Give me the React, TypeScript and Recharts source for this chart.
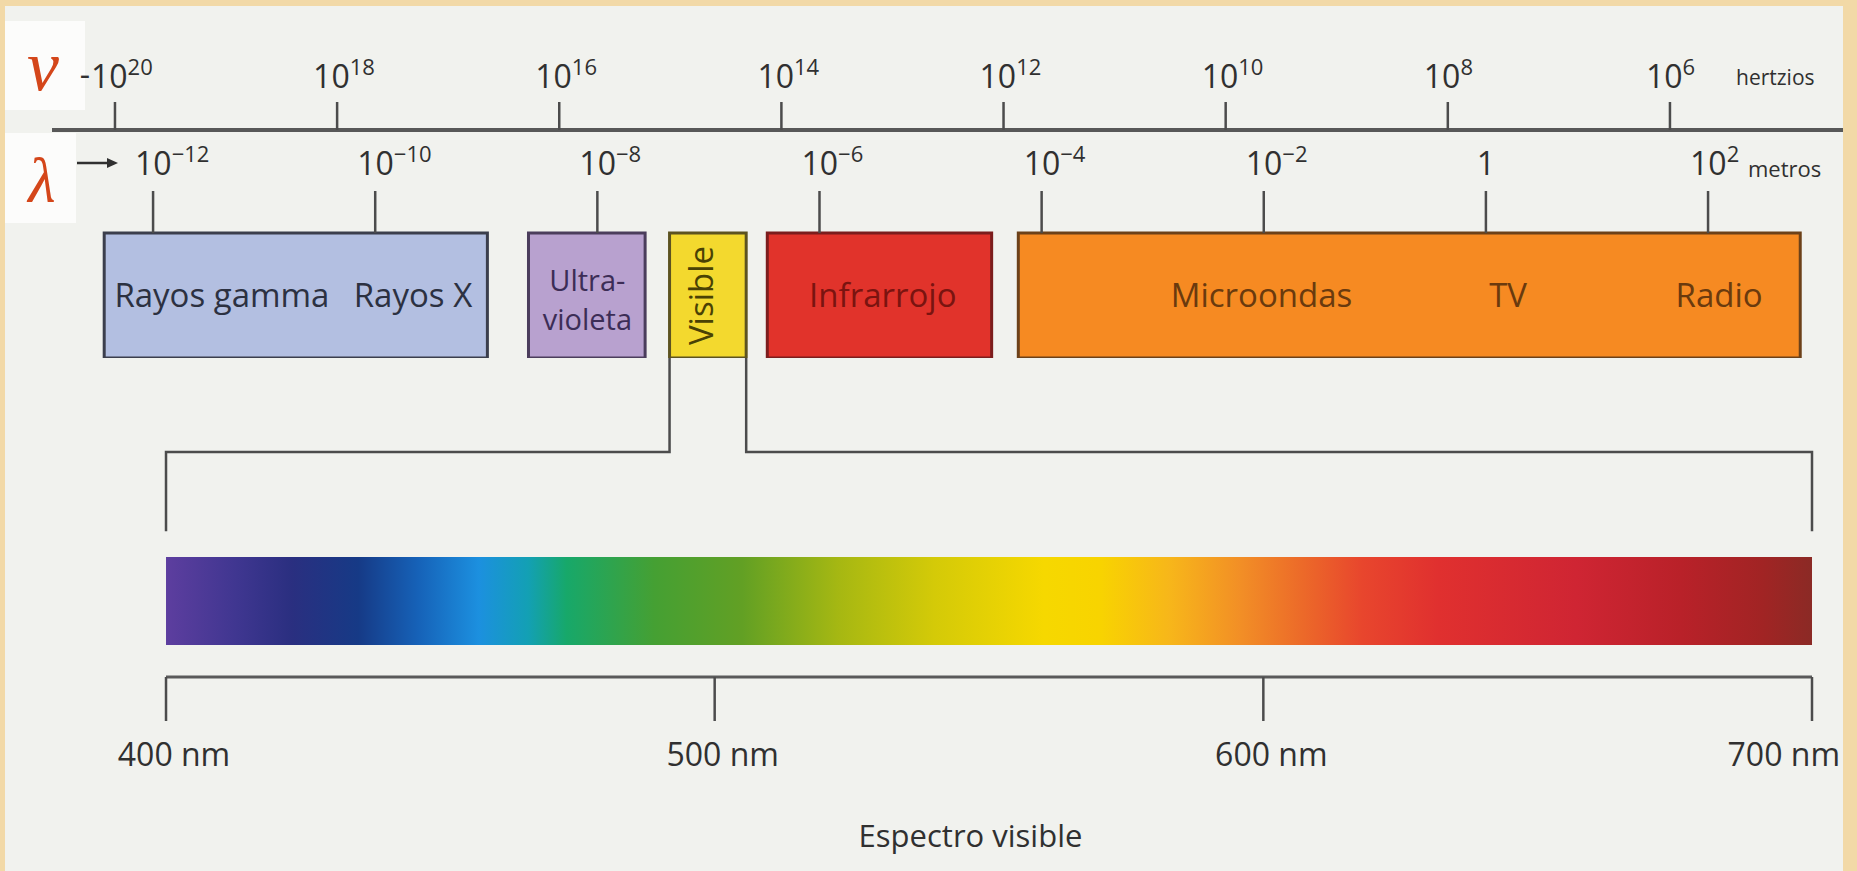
import React from "react";
import {
  ComposedChart,
  XAxis,
  YAxis,
  ReferenceArea,
  Scatter,
  Line,
} from "recharts";

// frequency scale, exponents of 10 (hertzios)
const FREQ_EXP = [20, 18, 16, 14, 12, 10, 8, 6];
// wavelength scale, exponents of 10 (metros)
const LAM_EXP = [-12, -10, -8, -6, -4, -2, 0, 2];

// spectrum bands, wavelength range as log10(m)
const BAND_NAMES = ["Rayos gamma / Rayos X", "Ultravioleta", "Visible", "Infrarrojo", "Microondas / TV / Radio"];
const BAND_FROM = [-12.44, -8.62, -7.35, -6.47, -4.21];
const BAND_TO = [-8.99, -7.57, -6.66, -4.45, 2.83];
const BAND_FILL = ["#b3bfe1", "#b8a1cf", "#f3d92e", "#e1332b", "#f68a22"];
const BAND_EDGE = ["#3b3e4c", "#4b3d5c", "#5c5320", "#7c1d1d", "#6c4119"];

// texts inside the bands
const LABEL_TEXT = ["Rayos gamma", "Rayos X", "Ultra-\nvioleta", "Visible", "Infrarrojo", "Microondas", "TV", "Radio"];
const LABEL_AT = [-11.38, -9.66, -8.09, -7.07, -5.43, -2.02, 0.2, 2.1];
const LABEL_INK = ["#2c3141", "#2c3141", "#3c2d56", "#4a4204", "#7a1410", "#6a3a0e", "#6a3a0e", "#6a3a0e"];

// visible spectrum (nm) and its colours
const SPEC_NM = [400, 413, 423, 435, 446, 457, 466, 473, 489, 505, 523, 540, 560, 570, 583, 596, 607, 618, 632, 657, 676, 691, 700];
const SPEC_COLOR = [
  "#5d3e9f", "#3f3690", "#2a2f80", "#163a86", "#1662b8", "#1c90df", "#13a0b4", "#17a86a",
  "#45a033", "#62a024", "#a7b812", "#d4ca08", "#f6d800", "#f8d400", "#f7b61a", "#f28e26",
  "#ec6a29", "#e8462d", "#e0302f", "#cf2533", "#b92129", "#a12424", "#8b2a25",
];
const NM_TICKS = [400, 500, 600, 700];
const VISIBLE = 2;

// layout
const W = 1857;
const PLOT_L = 52;
const PLOT_R = 1843;
const LAM_DOMAIN = [-12.91, 3.215];
const FREQ_DOMAIN = [4.442, 20.567];
const NM_DOMAIN = [379.22, 705.65];
const FONT = "'Open Sans', 'DejaVu Sans', sans-serif";
const SERIF = "'Liberation Serif', 'DejaVu Serif', serif";
const INK = "#303030";
const LINE = "#4c4c4c";
const GREEK = "#d4461a";
const BEND = 0.528;
const FOOT = 0.13;

const margin = (top: number, bottom: number) => ({ top, bottom, left: PLOT_L, right: W - PLOT_R });

// the bracket chart shares the plot width, so a wavelength maps straight onto the nm axis
const lamToNm = (l: number) =>
  NM_DOMAIN[0] + ((l - LAM_DOMAIN[0]) / (LAM_DOMAIN[1] - LAM_DOMAIN[0])) * (NM_DOMAIN[1] - NM_DOMAIN[0]);

const freqRows = FREQ_EXP.map((f) => ({ f, y: 0 }));
const labelRows = LABEL_TEXT.map((text, i) => ({
  text,
  lam: LABEL_AT[i],
  y: 0.5,
  ink: LABEL_INK[i],
  vertical: text === "Visible",
}));
const visLo = lamToNm(BAND_FROM[VISIBLE]);
const visHi = lamToNm(BAND_TO[VISIBLE]);
const leftBracket = [
  { x: visLo, y: 1 },
  { x: visLo, y: BEND },
  { x: NM_TICKS[0], y: BEND },
  { x: NM_TICKS[0], y: FOOT },
];
const rightBracket = [
  { x: visHi, y: 1 },
  { x: visHi, y: BEND },
  { x: NM_TICKS[3], y: BEND },
  { x: NM_TICKS[3], y: FOOT },
];
const baseRows = [
  { nm: NM_TICKS[0], y: 0 },
  { nm: NM_TICKS[3], y: 0 },
];

const Nothing = () => <g />;

function FreqTick(props: any) {
  const { x, y, payload } = props;
  const bx = x - 24;
  const by = y - 12;
  return (
    <g>
      {payload.value === FREQ_EXP[0] && (
        <text x={bx - 1} y={by - 2} textAnchor="end" fontFamily={FONT} fontSize={32} fill={INK}>
          -
        </text>
      )}
      <text x={bx} y={by} fontFamily={FONT} fontSize={32} fill={INK}>
        10
        <tspan dy={-13} fontSize={22}>
          {payload.value}
        </tspan>
      </text>
    </g>
  );
}

function LamTick(props: any) {
  const { x, y, payload } = props;
  const v = payload.value;
  const by = y - 14;
  if (v === 0) {
    return (
      <text x={x} y={by} textAnchor="middle" fontFamily={FONT} fontSize={32} fill={INK}>
        1
      </text>
    );
  }
  return (
    <text x={x - 18} y={by} fontFamily={FONT} fontSize={32} fill={INK}>
      10
      <tspan dy={-13} fontSize={22}>
        {v < 0 ? `\u2212${-v}` : v}
      </tspan>
    </text>
  );
}

function NmTick(props: any) {
  const { x, y, payload } = props;
  const last = payload.value === NM_TICKS[NM_TICKS.length - 1];
  return (
    <text
      x={last ? x + 28 : x + 8}
      y={y + 43}
      textAnchor={last ? "end" : "middle"}
      fontFamily={FONT}
      fontSize={32}
      fill={INK}
    >
      {payload.value} nm
    </text>
  );
}

function FreqTitle({ viewBox }: any) {
  const { x, y, width } = viewBox;
  return (
    <g>
      <rect x={x - 47} y={y - 39} width={80} height={89} fill="#fcfcfb" />
      <text x={x - 9} y={y + 30} textAnchor="middle" fontFamily={SERIF} fontStyle="italic" fontSize={72} fill={GREEK}>
        ν
      </text>
      <text x={x + width - 107} y={y + 25} fontFamily={FONT} fontSize={21} fill={INK}>
        hertzios
      </text>
    </g>
  );
}

function LamTitle({ viewBox }: any) {
  const { x, y, width } = viewBox;
  const ay = y + 30;
  return (
    <g>
      <rect x={x - 47} y={y} width={71} height={90} fill="#fcfcfb" />
      <text x={x - 10} y={y + 69} textAnchor="middle" fontFamily={SERIF} fontStyle="italic" fontSize={63} fill={GREEK}>
        λ
      </text>
      <line x1={x + 25} x2={x + 58} y1={ay} y2={ay} stroke={INK} strokeWidth={2.5} />
      <path d={`M${x + 66},${ay} L${x + 55},${ay - 5} L${x + 55},${ay + 5} Z`} fill={INK} />
      <text x={x + width - 95} y={y + 44} fontFamily={FONT} fontSize={22} fill={INK}>
        metros
      </text>
    </g>
  );
}

function SpectrumTitle({ viewBox }: any) {
  const { x, y, width } = viewBox;
  return (
    <text x={x + width / 2 + 23} y={y + 170} textAnchor="middle" fontFamily={FONT} fontSize={31} fill={INK}>
      Espectro visible
    </text>
  );
}

function BandLabel(props: any) {
  const { cx, cy, payload } = props;
  const common = { fontFamily: FONT, fontSize: 33, fill: payload.ink, textAnchor: "middle" as const };
  if (payload.vertical) {
    return (
      <text {...common} x={cx} y={cy + 12} transform={`rotate(-90 ${cx} ${cy})`}>
        {payload.text}
      </text>
    );
  }
  const lines = payload.text.split("\n");
  if (lines.length > 1) {
    return (
      <g>
        <text {...common} fontSize={29} x={cx} y={cy - 5}>
          {lines[0]}
        </text>
        <text {...common} fontSize={29} x={cx} y={cy + 34}>
          {lines[1]}
        </text>
      </g>
    );
  }
  return (
    <text {...common} x={cx} y={cy + 11}>
      {payload.text}
    </text>
  );
}

const layer = (top: number): React.CSSProperties => ({ position: "absolute", left: 0, top });

export default function App() {
  return (
    <div
      style={{
        position: "absolute",
        left: 0,
        top: 0,
        width: W,
        height: 871,
        overflow: "hidden",
        background: "#f2d9a7",
      }}
    >
      <div style={{ position: "absolute", left: 5, top: 6, width: PLOT_R - 5, height: 865, background: "#f1f2ee" }} />

      {/* frequency axis */}
      <div style={layer(0)}>
        <ComposedChart width={W} height={150} margin={margin(60, 10)}>
          <XAxis
            xAxisId="f"
            dataKey="f"
            type="number"
            orientation="top"
            height={70}
            domain={FREQ_DOMAIN}
            allowDataOverflow
            reversed
            ticks={FREQ_EXP}
            interval={0}
            tickSize={28}
            axisLine={{ stroke: "#585858", strokeWidth: 4 }}
            tickLine={{ stroke: LINE, strokeWidth: 2.5 }}
            tick={<FreqTick />}
            label={<FreqTitle />}
          />
          <YAxis hide dataKey="y" type="number" domain={[0, 1]} />
          <Scatter xAxisId="f" data={freqRows} shape={Nothing} isAnimationActive={false} />
        </ComposedChart>
      </div>

      {/* wavelength axis and bands */}
      <div style={layer(0)}>
        <ComposedChart width={W} height={358} margin={margin(133, 0)}>
          <XAxis
            dataKey="lam"
            type="number"
            orientation="top"
            height={100}
            domain={LAM_DOMAIN}
            allowDataOverflow
            ticks={LAM_EXP}
            interval={0}
            tickSize={42}
            axisLine={false}
            tickLine={{ stroke: LINE, strokeWidth: 2.5 }}
            tick={<LamTick />}
            label={<LamTitle />}
          />
          <YAxis hide dataKey="y" type="number" domain={[0, 1]} />
          {BAND_NAMES.map((name, i) => (
            <ReferenceArea
              key={name}
              x1={BAND_FROM[i]}
              x2={BAND_TO[i]}
              y1={0}
              y2={1}
              fill={BAND_FILL[i]}
              fillOpacity={1}
              stroke={BAND_EDGE[i]}
              strokeWidth={3}
            />
          ))}
          <Scatter data={labelRows} shape={BandLabel} isAnimationActive={false} />
        </ComposedChart>
      </div>

      {/* brackets from the visible band to the spectrum */}
      <div style={layer(358)}>
        <ComposedChart width={W} height={199} margin={margin(0, 0)}>
          <XAxis hide dataKey="x" type="number" domain={NM_DOMAIN} allowDataOverflow />
          <YAxis hide type="number" domain={[0, 1]} />
          <Line data={leftBracket} dataKey="y" type="linear" stroke={LINE} strokeWidth={2.5} dot={false} isAnimationActive={false} />
          <Line data={rightBracket} dataKey="y" type="linear" stroke={LINE} strokeWidth={2.5} dot={false} isAnimationActive={false} />
        </ComposedChart>
      </div>

      {/* visible spectrum */}
      <div style={layer(557)}>
        <ComposedChart width={W} height={314} margin={margin(0, 19)}>
          <defs>
            <linearGradient id="spectrum" x1="0" y1="0" x2="1" y2="0">
              {SPEC_NM.map((nm, i) => (
                <stop key={nm} offset={(nm - SPEC_NM[0]) / (SPEC_NM[SPEC_NM.length - 1] - SPEC_NM[0])} stopColor={SPEC_COLOR[i]} />
              ))}
            </linearGradient>
          </defs>
          <XAxis
            dataKey="nm"
            type="number"
            orientation="bottom"
            height={175}
            domain={NM_DOMAIN}
            allowDataOverflow
            ticks={NM_TICKS}
            interval={0}
            tickSize={44}
            axisLine={false}
            tickLine={{ stroke: LINE, strokeWidth: 2.5 }}
            tick={<NmTick />}
            label={<SpectrumTitle />}
          />
          <YAxis hide type="number" domain={[0, 1]} />
          <ReferenceArea x1={NM_TICKS[0]} x2={NM_TICKS[3]} y1={0.267} y2={1} fill="url(#spectrum)" fillOpacity={1} />
          <Line data={baseRows} dataKey="y" type="linear" stroke="#5a5a5a" strokeWidth={3} dot={false} isAnimationActive={false} />
        </ComposedChart>
      </div>
    </div>
  );
}
